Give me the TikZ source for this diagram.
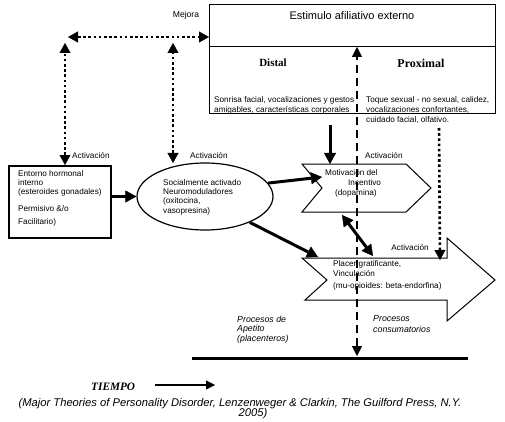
\documentclass[tikz,border=0pt]{standalone}
\usepackage{fontspec}
\setmainfont{Liberation Sans}
\newfontfamily\tnr{Liberation Serif}
\usetikzlibrary{arrows.meta,shapes.geometric}
\begin{document}
\begin{tikzpicture}[x=1pt,y=-1pt,
  txt/.style={inner sep=0pt, anchor=west, font=\fontsize{8.2}{9}\selectfont},
  ctxt/.style={inner sep=0pt, font=\fontsize{8.6}{9}\selectfont},
  itxt/.style={inner sep=0pt, anchor=west, font=\fontsize{8.8}{9}\itshape},
  dots/.style={line width=2.6pt, dash pattern=on 2.6pt off 2.6pt},
  dotboth/.style={dots, {Triangle[length=10pt,width=11pt,line width=0.4pt]}-{Triangle[length=10pt,width=11pt,line width=0.4pt]}},
  dotend/.style={dots, -{Triangle[length=10pt,width=11pt,line width=0.4pt]}},
  thickarr/.style={line width=3pt, -{Triangle[length=11pt,width=12pt,line width=0.4pt]}},
  thickboth/.style={line width=3pt, {Triangle[length=11pt,width=12pt,line width=0.4pt]}-{Triangle[length=11pt,width=12pt,line width=0.4pt]}},
  dashboth/.style={line width=2pt, dash pattern=on 8pt off 5pt, {Triangle[length=10pt,width=10pt,line width=0.4pt]}-{Triangle[length=10pt,width=10pt,line width=0.4pt]}},
  shapeline/.style={line width=1pt, line join=miter}]
\useasboundingbox (0,0) rectangle (505,422);

% top box
\node (stim) [draw, line width=1.2pt, minimum width=286pt, minimum height=109pt, anchor=north west, inner sep=0pt] at (209,4) {};
\draw[line width=0.8pt] (stim.west |- 0,46) -- (stim.east |- 0,46);
\node (stimt) [inner sep=0pt, font=\fontsize{11}{12}\selectfont] at (352,16) {Estimulo afiliativo externo};
\node (distal) [inner sep=0pt, font=\tnr\bfseries\fontsize{11}{12}\selectfont] at (273,63) {Distal};
\node (proximal) [inner sep=0pt, font=\tnr\bfseries\fontsize{12}{13}\selectfont] at (421,63) {Proximal};
\node (d1) [txt] at (214,100) {Sonrisa facial, vocalizaciones y gestos};
\node (d2) [txt] at (214,110) {amigables, características corporales};
\node (p1) [txt] at (366,100) {Toque sexual - no sexual, calidez,};
\node (p2) [txt] at (366,110) {vocalizaciones confortantes,};
\node (p3) [txt] at (366,120) {cuidado facial, olfativo.};

\node (mejora) [ctxt] at (186,15) {Mejora};

% dotted connectors
\coordinate (hL) at (68,37);
\coordinate (vLt) at (65,43);
\coordinate (vMt) at (173,43);
\draw[dotboth] (hL) -- (stim.west |- hL);

% left box
\node (hbox) [draw, line width=1.6pt, minimum width=102pt, minimum height=72pt, anchor=north west, inner sep=0pt] at (8,165) {};
\node (h1) [txt] at (18,174) {Entorno hormonal};
\node (h2) [txt] at (18,183) {interno};
\node (h3) [txt] at (18,192) {(esteroides gonadales)};
\node (h4) [txt] at (18,209) {Permisivo \&/o};
\node (h5) [txt] at (18,222) {Facilitario)};

% ellipse
\node (soc) [ellipse, draw, line width=1.2pt, minimum width=136pt, minimum height=67pt, inner sep=0pt] at (205,196.5) {};
\node (s1) [txt] at (163,183) {Socialmente activado};
\node (s2) [txt] at (163,192) {Neuromoduladores};
\node (s3) [txt] at (163,201) {(oxitocina,};
\node (s4) [txt] at (163,211) {vasopresina)};

\coordinate (vLb) at (hbox.north -| vLt);
\coordinate (vMb) at (173,163);
\draw[dotboth] (vLb) -- (vLt);
\draw[dotboth] (vMb) -- (vMt);
\node (act1) [txt] at (72,156) {Activación};
\node (act2) [txt] at (190,156) {Activación};

\draw[thickarr] (hbox.east |- soc.west) -- (soc.west);

% motivation chevron
\draw[shapeline, fill=white] (302,164) coordinate (mtl) -- (406,164) -- (431,188) coordinate (mtip) -- (406,212) -- (302,212) -- (322,188) coordinate (mnotch) -- cycle;
\coordinate (mtop) at (330,164);
\coordinate (min) at (322,177);
\coordinate (mbot) at (342,215);

% big arrow
\draw[shapeline, fill=white] (302,258) -- (447,258) -- (447,238) -- (495,280) coordinate (btip) -- (447,321) -- (447,300) -- (305,300) -- (327,280) -- cycle;
\coordinate (btop) at (373,256);
\coordinate (bin) at (318,257);
\coordinate (bright) at (440,260);

% dashed vertical
\coordinate (dtop) at (357,47);
\coordinate (dbot) at (357,356);
\draw[dashboth] (dbot) -- (dtop);

\node (m1) [txt] at (325,173) {Motivación del};
\node (m2) [txt] at (348,183) {Incentivo};
\node (m3) [txt] at (335,193) {(dopamina)};
\node (act3) [txt] at (365,156) {Activación};

\node (b1) [txt] at (333,264) {Placer gratificante,};
\node (b2) [txt] at (333,274) {Vinculación};
\node (b3) [txt] at (333,286) {(mu-opioides: beta-endorfina)};

% solid arrows
\coordinate (sdown) at (330,125);
\draw[thickarr] (sdown) -- (mtop);
\draw[thickarr] (soc.12) -- (min);
\draw[thickarr] (soc.-30) -- (bin);
\draw[thickboth] (mbot) -- (btop);

% dotted right
\coordinate (rtop) at (439,128);
\draw[dotend] (rtop) -- (bright);
\node (act4) [inner sep=0pt, anchor=east, font=\fontsize{8.2}{9}\selectfont] at (429,248) {Activación};

% lower texts
\node (pa1) [itxt] at (237,319) {Procesos de};
\node (pa2) [itxt] at (237,329) {Apetito};
\node (pa3) [itxt] at (237,339) {(placenteros)};
\node (pc1) [itxt] at (373,319) {Procesos};
\node (pc2) [itxt] at (373,329) {consumatorios};

% timeline
\coordinate (tl0) at (192,358);
\coordinate (tl1) at (468,358);
\draw[line width=3pt] (tl0) -- (tl1);

\node (tiempo) [inner sep=0pt, anchor=west, font=\tnr\bfseries\itshape\fontsize{11.3}{12}\selectfont] at (91,387) {TIEMPO};
\coordinate (ta0) at (155,385);
\coordinate (ta1) at (215,385);
\draw[line width=1.8pt, -{Triangle[length=9pt,width=9pt,line width=0.4pt]}] (ta0) -- (ta1);

\node (cit1) [inner sep=0pt, font=\fontsize{11.2}{12}\itshape] at (240,404) {(Major Theories of Personality Disorder, Lenzenweger \& Clarkin, The Guilford Press, N.Y.};
\node (cit2) [inner sep=0pt, font=\fontsize{11.2}{12}\itshape] at (253,414) {2005)};
\end{tikzpicture}
\end{document}
